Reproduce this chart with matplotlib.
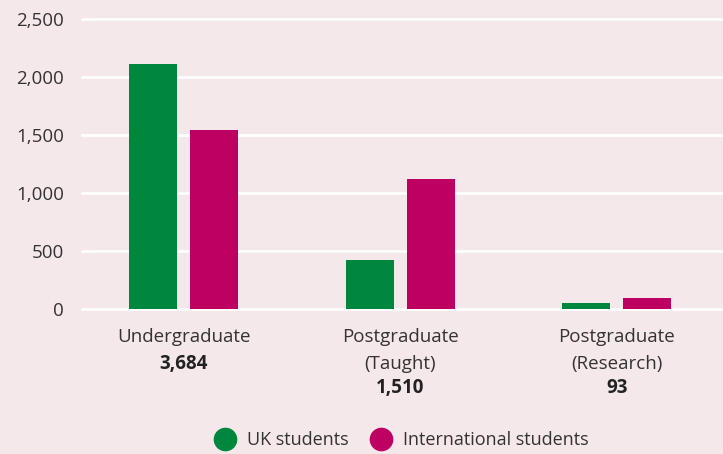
import matplotlib
matplotlib.use("Agg")
import matplotlib.pyplot as plt
from matplotlib.lines import Line2D

categories = ["Undergraduate", "Postgraduate\n(Taught)", "Postgraduate\n(Research)"]
totals = ["3,684", "1,510", "93"]
uk_students = [2115, 420, 52]
intl_students = [1545, 1120, 93]
yticks = [0, 500, 1000, 1500, 2000, 2500]
ytick_labels = ["0", "500", "1,000", "1,500", "2,000", "2,500"]

BG = "#f5e8ea"
GREEN = "#00873e"
MAGENTA = "#be0063"
TXT = "#333333"
plt.rcParams['font.family'] = ['Open Sans', 'DejaVu Sans']

fig = plt.figure(figsize=(7.23, 4.54), dpi=100, facecolor=BG)
ax = fig.add_axes([82/723, 1 - 309/454, (723-82)/723, (309-19)/454])
ax.set_facecolor(BG)

x = list(range(len(categories)))
w = 0.222
off = 0.141
ax.bar([i - off for i in x], uk_students, width=w, color=GREEN, zorder=3)
ax.bar([i + off for i in x], intl_students, width=w, color=MAGENTA, zorder=3)

ax.set_xlim(-0.47, 2.49)
ax.set_ylim(0, 2500)
for y in yticks:
    ax.axhline(y, color="white", lw=2, zorder=1, clip_on=False)
ax.set_yticks(yticks)
ax.set_yticklabels(ytick_labels, fontsize=13.5, color=TXT)
ax.tick_params(axis='y', length=0, pad=13)
ax.set_xticks([])
for s in ax.spines.values():
    s.set_visible(False)

line_offsets_px = [28, 55, 79]
for i, (c, t) in enumerate(zip(categories, totals)):
    lines = c.split("\n")
    for k, ln in enumerate(lines):
        ax.annotate(ln, xy=(i, 0), xycoords='data', xytext=(0, -line_offsets_px[k] * 0.72),
                    textcoords='offset points', ha='center', va='center',
                    fontsize=13.5, color=TXT)
    ax.annotate(t, xy=(i, 0), xycoords='data', xytext=(0, -line_offsets_px[len(lines)] * 0.72),
                textcoords='offset points', ha='center', va='center',
                fontsize=13.5, color="#222222", fontweight='bold')

handles = [Line2D([], [], marker='o', ls='', markersize=16, color=GREEN),
           Line2D([], [], marker='o', ls='', markersize=16, color=MAGENTA)]
fig.legend(handles, ["UK students", "International students"], loc='center',
           bbox_to_anchor=(398/723, 1 - 440/454), ncol=2, frameon=False,
           fontsize=13, handletextpad=0.2, columnspacing=0.8, labelcolor=TXT)

fig.savefig("out.png", dpi=100, facecolor=BG)
